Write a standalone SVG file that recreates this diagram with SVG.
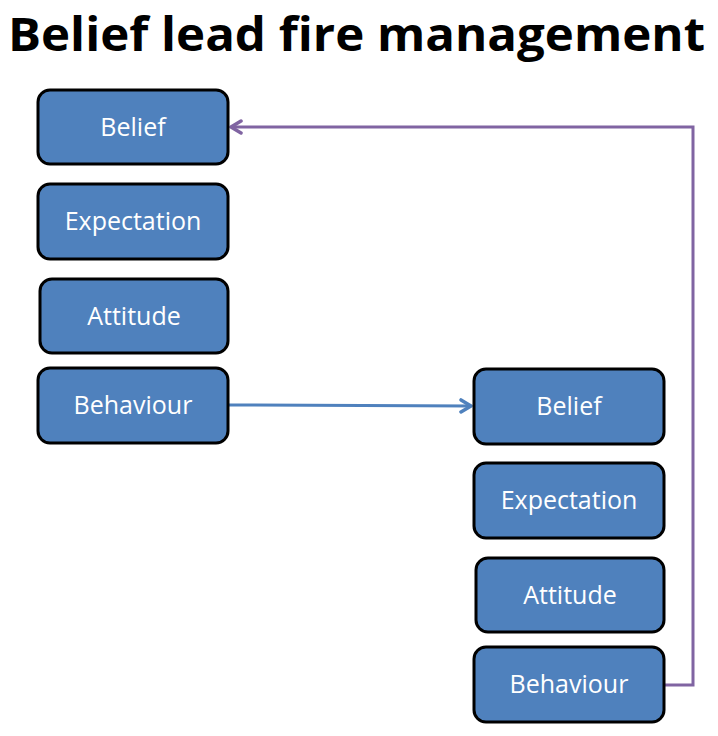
<svg xmlns="http://www.w3.org/2000/svg" width="718" height="736" viewBox="0 0 718 736">
<style>
.box{fill:#4F81BD;stroke:#000;stroke-width:3}
.lbl{font-family:"Open Sans","Noto Sans",sans-serif;font-size:25px;fill:#fff;text-anchor:middle}
.title{font-family:"Open Sans","Noto Sans",sans-serif;font-weight:bold;font-size:46px;fill:#000}
</style>
<defs>
<marker id="ab" markerWidth="14" markerHeight="16" refX="12" refY="8" orient="auto" markerUnits="userSpaceOnUse"><path d="M2,2 L12,8 L2,14" fill="none" stroke="#4F81BD" stroke-width="3.5" stroke-linecap="round" stroke-linejoin="round"/></marker>
<marker id="ap" markerWidth="14" markerHeight="16" refX="12" refY="8" orient="auto" markerUnits="userSpaceOnUse"><path d="M2,2 L12,8 L2,14" fill="none" stroke="#8064A2" stroke-width="3.5" stroke-linecap="round" stroke-linejoin="round"/></marker>
</defs>
<rect width="718" height="736" fill="#fff"/>
<text class="title" x="8" y="51" textLength="697" lengthAdjust="spacingAndGlyphs">Belief lead fire management</text>
<g id="connectors">
<path d="M229,405 L471,406" fill="none" stroke="#4F81BD" stroke-width="3" marker-end="url(#ab)"/>
<path d="M665,685 L693,685 L693,127 L231,127" fill="none" stroke="#8064A2" stroke-width="3" marker-end="url(#ap)"/>
</g>
<g id="l-belief"><rect class="box" x="38" y="90" width="190" height="74" rx="12"/><text class="lbl" x="133" y="136">Belief</text></g>
<g id="l-expectation"><rect class="box" x="38" y="184" width="190" height="75" rx="12"/><text class="lbl" x="133" y="230">Expectation</text></g>
<g id="l-attitude"><rect class="box" x="40" y="279" width="188" height="74" rx="12"/><text class="lbl" x="134" y="325">Attitude</text></g>
<g id="l-behaviour"><rect class="box" x="38" y="368" width="190" height="75" rx="12"/><text class="lbl" x="133" y="414">Behaviour</text></g>
<g id="r-belief"><rect class="box" x="474" y="369" width="190" height="75" rx="12"/><text class="lbl" x="569" y="415">Belief</text></g>
<g id="r-expectation"><rect class="box" x="474" y="463" width="190" height="75" rx="12"/><text class="lbl" x="569" y="509">Expectation</text></g>
<g id="r-attitude"><rect class="box" x="476" y="558" width="188" height="74" rx="12"/><text class="lbl" x="570" y="604">Attitude</text></g>
<g id="r-behaviour"><rect class="box" x="474" y="647" width="190" height="75" rx="12"/><text class="lbl" x="569" y="693">Behaviour</text></g>
</svg>
